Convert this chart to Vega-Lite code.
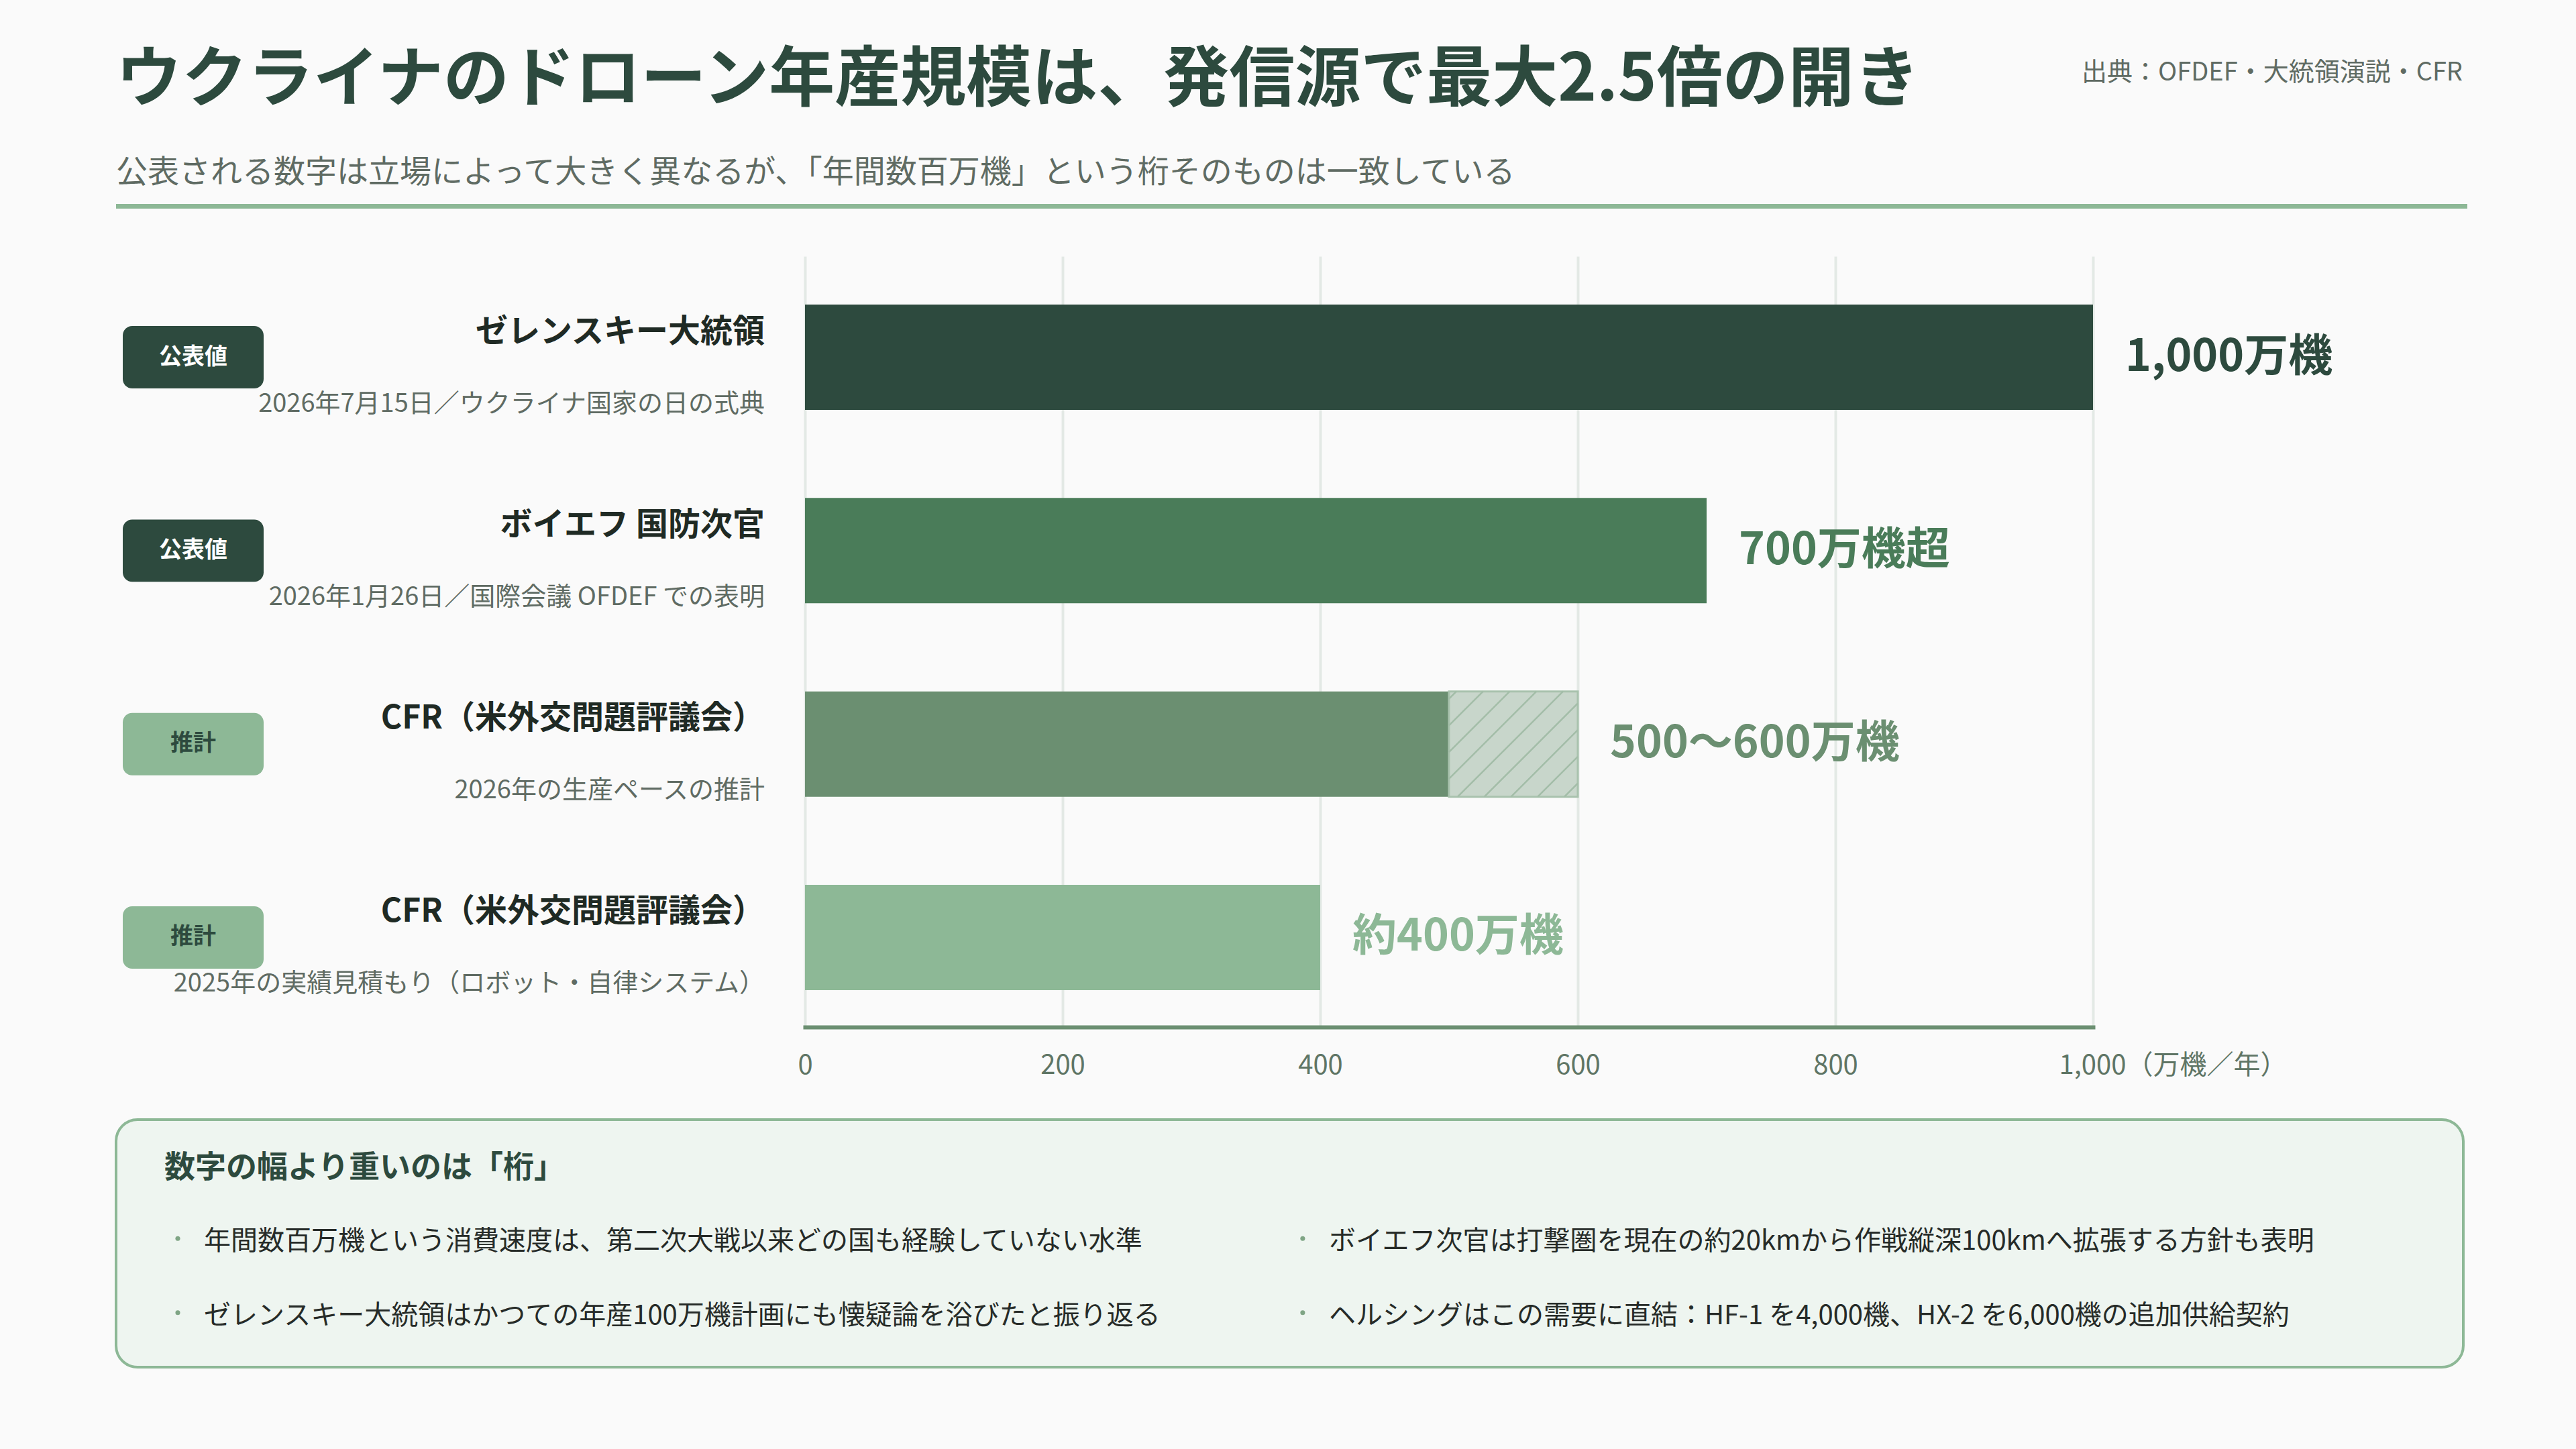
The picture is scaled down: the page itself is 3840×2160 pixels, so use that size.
{
  "$schema": "https://vega.github.io/schema/vega-lite/v6.json",
  "autosize": {"type": "none"},
  "padding": {"left": 173, "top": 304, "right": 3667, "bottom": 1856},
  "background": "#fafafa",
  "title": {
    "text": "ウクライナのドローン年産規模は、発信源で最大2.5倍の開き",
    "subtitle": "公表される数字は立場によって大きく異なるが、「年間数百万機」という桁そのものは一致している",
    "anchor": "start",
    "frame": "group",
    "fontSize": 98,
    "fontWeight": "bold",
    "color": "#2d4a3e",
    "subtitleFontSize": 47,
    "subtitleFontWeight": "normal",
    "subtitleColor": "#5f6b63",
    "subtitlePadding": 64,
    "offset": -192
  },
  "datasets": {
    "rows": [
      {"id": "1", "speaker": "ゼレンスキー大統領", "note": "2026年7月15日／ウクライナ国家の日の式典", "kind": "公表値", "value": 1000, "upper": 1000, "label": "1,000万機"},
      {"id": "2", "speaker": "ボイエフ 国防次官", "note": "2026年1月26日／国際会議 OFDEF での表明", "kind": "公表値", "value": 700, "upper": 700, "label": "700万機超"},
      {"id": "3", "speaker": "CFR（米外交問題評議会）", "note": "2026年の生産ペースの推計", "kind": "推計", "value": 500, "upper": 600, "label": "500〜600万機"},
      {"id": "4", "speaker": "CFR（米外交問題評議会）", "note": "2025年の実績見積もり（ロボット・自律システム）", "kind": "推計", "value": 400, "upper": 400, "label": "約400万機"}
    ],
    "points": [
      {"col": "1", "row": "h", "kind": "head", "text": "数字の幅より重いのは「桁」"},
      {"col": "1", "row": "1", "kind": "item", "text": "年間数百万機という消費速度は、第二次大戦以来どの国も経験していない水準"},
      {"col": "1", "row": "2", "kind": "item", "text": "ゼレンスキー大統領はかつての年産100万機計画にも懐疑論を浴びたと振り返る"},
      {"col": "2", "row": "1", "kind": "item", "text": "ボイエフ次官は打撃圏を現在の約20kmから作戦縦深100kmへ拡張する方針も表明"},
      {"col": "2", "row": "2", "kind": "item", "text": "ヘルシングはこの需要に直結：HF-1 を4,000機、HX-2 を6,000機の追加供給契約"}
    ]
  },
  "vconcat": [
    {
      "width": 3505,
      "height": 7,
      "data": {"values": [{"line": 1}]},
      "title": {
        "text": "出典：OFDEF・大統領演説・CFR",
        "anchor": "end",
        "fontSize": 38,
        "fontWeight": "normal",
        "color": "#5f6b63",
        "dx": -7,
        "offset": 176
      },
      "mark": {"type": "bar", "color": "#8db896"},
      "encoding": {}
    },
    {
      "width": 2947,
      "height": 1149,
      "data": {"name": "rows"},
      "encoding": {
        "y": {"field": "id", "type": "nominal", "axis": null, "sort": null,
              "scale": {"paddingInner": 0.4554, "paddingOuter": 0.2204, "align": 0.567}}
      },
      "layer": [
        {
          "encoding": {
            "x": {"datum": "badge", "type": "nominal", "axis": null,
                  "scale": {"type": "band", "domain": ["badge"], "range": [10, 220], "paddingInner": 0, "paddingOuter": 0}}
          },
          "layer": [
            {
              "mark": {"type": "bar", "cornerRadius": 14, "height": {"band": 0.592}},
              "encoding": {
                "color": {"condition": {"test": "datum.kind === '公表値'", "value": "#2d4a3e"}, "value": "#8db896"}
              }
            },
            {
              "mark": {"type": "text", "fontSize": 34, "fontWeight": "bold", "baseline": "middle"},
              "encoding": {
                "text": {"field": "kind"},
                "color": {"condition": {"test": "datum.kind === '公表値'", "value": "#ffffff"}, "value": "#2d4a3e"}
              }
            }
          ]
        },
        {
          "layer": [
            {
              "mark": {"type": "bar"},
              "encoding": {
                "x": {
                  "field": "value",
                  "type": "quantitative",
                  "title": null,
                  "scale": {"domain": [0, 1000], "range": [1027, 2947], "nice": false},
                  "axis": {
                    "values": [0, 200, 400, 600, 800, 1000],
                    "grid": true,
                    "gridColor": "#e3e9e5",
                    "gridWidth": 4,
                    "domainColor": "#6b8f71",
                    "domainWidth": 6,
                    "domainCap": "square",
                    "ticks": false,
                    "tickSize": 0,
                    "labelFontSize": 40,
                    "labelColor": "#5f7565",
                    "labelPadding": 37,
                    "labelLimit": 0,
                    "labelFlush": false,
                    "labelOverlap": false,
                    "labelExpr": "datum.value === 1000 ? '1,000（万機／年）' : datum.label",
                    "labelAlign": {"condition": {"test": "datum.value === 1000", "value": "left"}, "value": "center"},
                    "labelOffset": {"condition": {"test": "datum.value === 1000", "value": -51}, "value": 0},
                    "title": null
                  }
                },
                "color": {
                  "field": "id",
                  "type": "nominal",
                  "legend": null,
                  "scale": {"domain": ["1", "2", "3", "4"], "range": ["#2d4a3e", "#4a7c59", "#6b8f71", "#8db896"]}
                }
              }
            },
            {
              "transform": [{"filter": "datum.upper > datum.value"}],
              "mark": {"type": "bar", "fill": "#c8d6cb", "stroke": "#a8c2ad", "strokeWidth": 3},
              "encoding": {
                "x": {"field": "value", "type": "quantitative", "title": null},
                "x2": {"field": "upper"}
              }
            },
            {
              "transform": [{"filter": "datum.upper > datum.value"}],
              "mark": {
                "type": "point",
                "shape": "M-2,-0.703L-1.885,-0.818M-2,-0.289L-1.471,-0.818M-2,0.125L-1.057,-0.818M-2,0.539L-0.643,-0.818M-1.865,0.818L-0.229,-0.818M-1.451,0.818L0,-0.633M-1.036,0.818L0,-0.219M-0.622,0.818L0,0.195M-0.208,0.818L0,0.609",
                "size": 36864,
                "filled": false,
                "color": "#a3bda8",
                "strokeWidth": 2.5,
                "opacity": 1
              },
              "encoding": {
                "x": {"field": "upper", "type": "quantitative", "title": null}
              }
            },
            {
              "mark": {"type": "text", "align": "left", "baseline": "middle", "dx": 48, "fontSize": 66, "fontWeight": "bold"},
              "encoding": {
                "x": {"field": "upper", "type": "quantitative", "title": null},
                "text": {"field": "label"},
                "color": {"field": "id", "type": "nominal", "legend": null}
              }
            },
            {
              "mark": {"type": "text", "align": "right", "baseline": "middle", "dx": -60, "dy": -37, "fontSize": 48, "fontWeight": "bold", "color": "#1f2a24"},
              "encoding": {
                "x": {"datum": 0},
                "text": {"field": "speaker"}
              }
            },
            {
              "mark": {"type": "text", "align": "right", "baseline": "middle", "dx": -60, "dy": 70, "fontSize": 38, "color": "#5f6b63"},
              "encoding": {
                "x": {"datum": 0},
                "text": {"field": "note"}
              }
            }
          ]
        }
      ],
      "resolve": {"scale": {"x": "independent"}, "axis": {"x": "independent"}}
    },
    {
      "width": 3499,
      "height": 436,
      "data": {"name": "points"},
      "layer": [
        {
          "transform": [{"filter": "datum.kind === 'head'"}],
          "mark": {"type": "bar", "fill": "#eef5f0", "stroke": "#8db896", "strokeWidth": 4, "cornerRadius": 32, "yOffset": 67},
          "encoding": {}
        },
        {
          "encoding": {
            "x": {"field": "col", "type": "ordinal", "axis": null,
                  "scale": {"type": "point", "domain": ["1", "2"], "padding": 0.5433, "align": 0.0719}},
            "y": {"field": "row", "type": "ordinal", "axis": null,
                  "scale": {"type": "point", "domain": ["h", "1", "2"], "padding": 0.9729, "align": 0.645}}
          },
          "layer": [
            {
              "transform": [{"filter": "datum.kind === 'head'"}],
              "mark": {"type": "text", "align": "left", "baseline": "middle", "dx": -59, "fontSize": 46, "fontWeight": "bold", "color": "#2d4a3e"},
              "encoding": {"text": {"field": "text"}}
            },
            {
              "transform": [{"filter": "datum.kind === 'item'"}],
              "mark": {"type": "text", "align": "left", "baseline": "middle", "fontSize": 40, "color": "#262b28"},
              "encoding": {"text": {"field": "text"}}
            },
            {
              "transform": [{"filter": "datum.kind === 'item'"}],
              "mark": {"type": "circle", "size": 50, "color": "#7fa585", "opacity": 1, "xOffset": -39, "yOffset": -5}
            }
          ]
        }
      ]
    }
  ],
  "spacing": 71,
  "bounds": "flush",
  "config": {
    "font": "Noto Sans CJK JP",
    "view": {"stroke": null}
  }
}
